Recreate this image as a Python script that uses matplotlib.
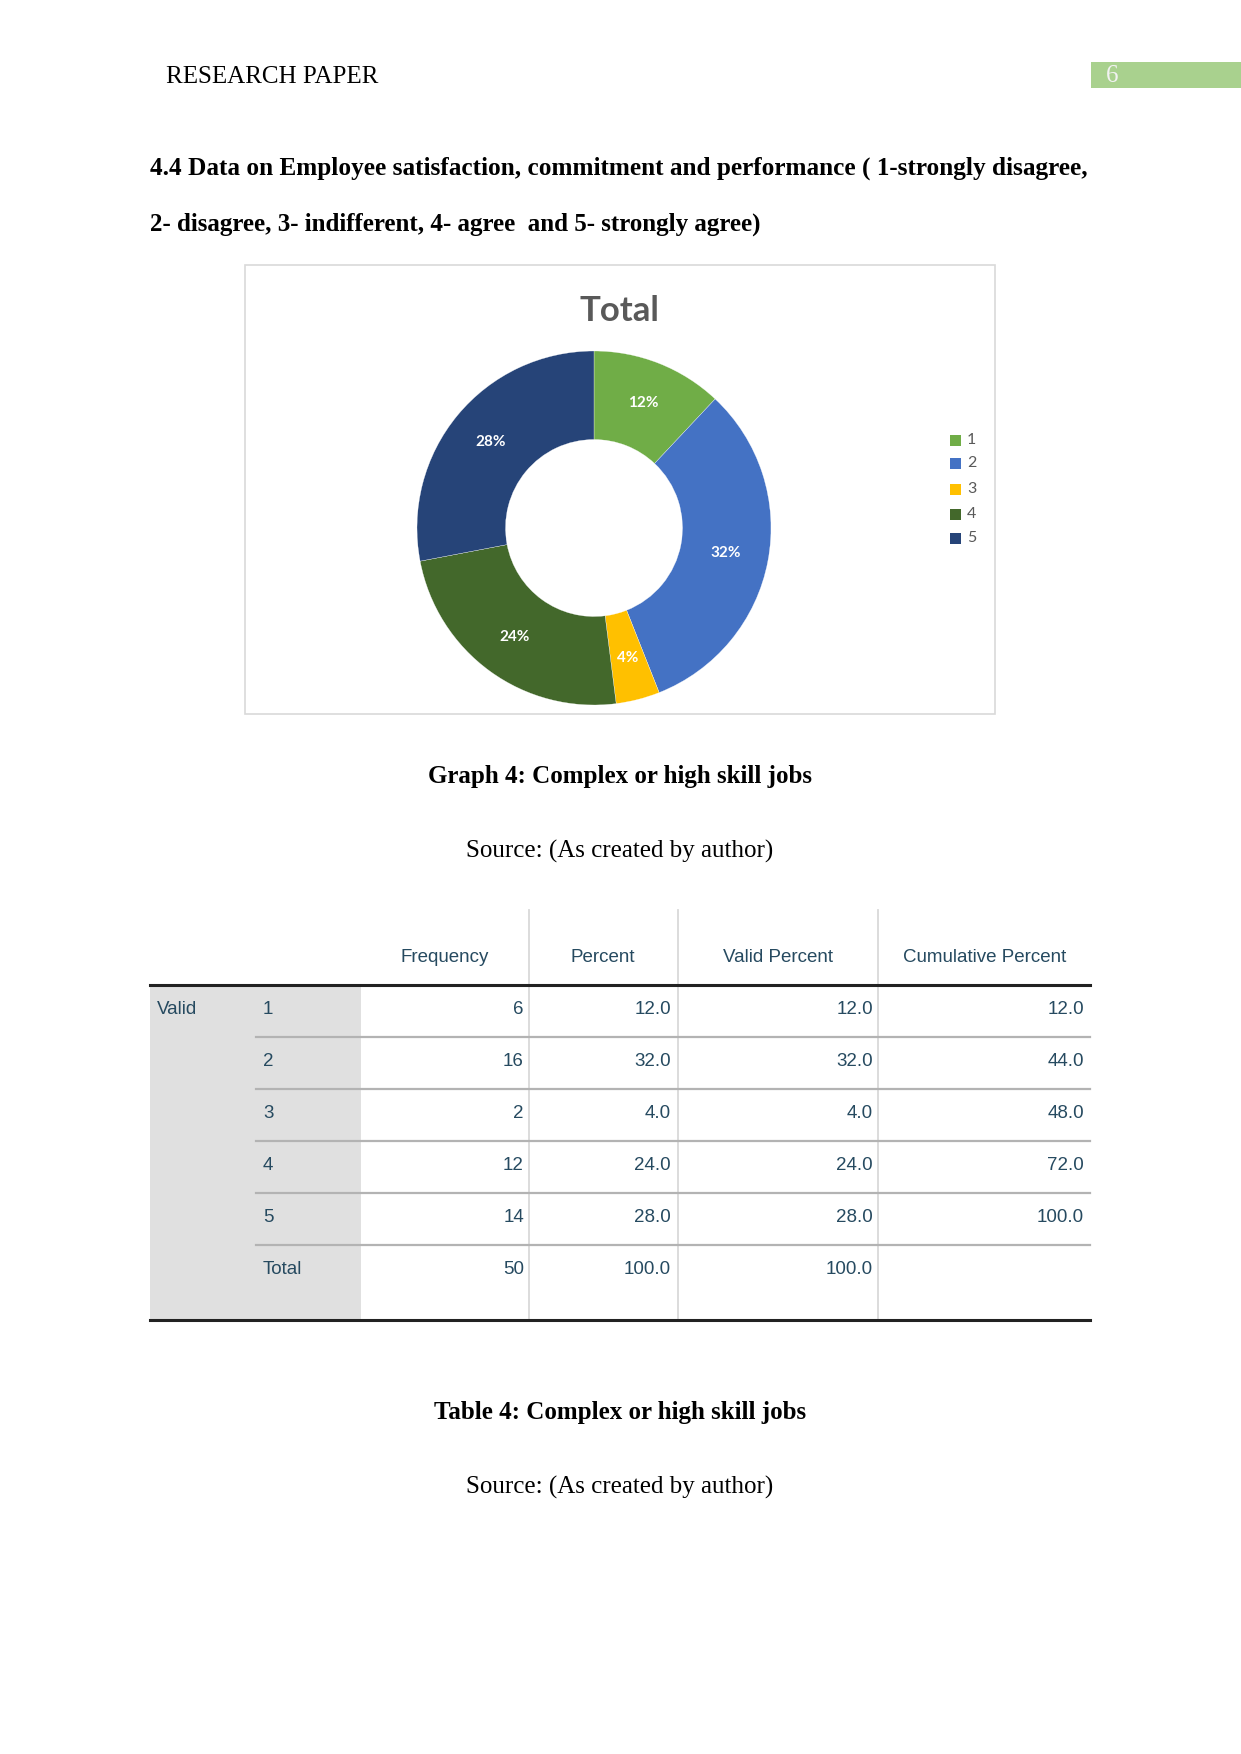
import matplotlib
matplotlib.use("Agg")
import matplotlib.pyplot as plt
from matplotlib.patches import Rectangle

# datos de la tabla / grafico
categories = ["1", "2", "3", "4", "5"]
frequency = [6, 16, 2, 12, 14]
percent = [12.0, 32.0, 4.0, 24.0, 28.0]
valid_percent = [12.0, 32.0, 4.0, 24.0, 28.0]
cumulative = [12.0, 44.0, 48.0, 72.0, 100.0]
total_freq = 50
total_pct = 100.0
col_headers = ["Frequency", "Percent", "Valid Percent", "Cumulative Percent"]
colors = ["#70ad47", "#4472c4", "#ffc000", "#43682b", "#264478"]

W, H = 1241, 1754
fig = plt.figure(figsize=(W / 100, H / 100), dpi=100)
ax = fig.add_axes([0, 0, 1, 1])
ax.set_xlim(0, W)
ax.set_ylim(H, 0)
ax.axis("off")

serif = "Liberation Serif"
sans = "Liberation Sans"
txt = "#264a60"
fs_tab = 13.5

# cabecera de pagina
ax.text(166, 77, "RESEARCH PAPER", family=serif, fontsize=18, va="center")
ax.add_patch(Rectangle((1091, 62), 150, 26, color="#a9d18e", lw=0))
ax.text(1106, 76, "6", family=serif, fontsize=18, va="center", color="#f2f2f2")

ax.text(150, 168, "4.4 Data on Employee satisfaction, commitment and performance ( 1-strongly disagree,",
        family=serif, fontsize=18.2, weight="bold", va="center")
ax.text(150, 224, "2- disagree, 3- indifferent, 4- agree  and 5- strongly agree)",
        family=serif, fontsize=18, weight="bold", va="center")

# marco del grafico
ax.add_patch(Rectangle((245, 265), 750, 449, fill=False, ec="#d9d9d9", lw=1.2))
ax.text(619, 311, "Total", family="Lato", fontsize=25, weight="bold", color="#595959",
        ha="center", va="center")

# donut
cx, cy, R = 594, 528, 177
pax = fig.add_axes([(cx - R) / W, 1 - (cy + R) / H, 2 * R / W, 2 * R / H])
wedges, _, autotexts = pax.pie(frequency, colors=colors, startangle=90, counterclock=False,
                               radius=1, autopct="%1.0f%%", pctdistance=0.76,
                               wedgeprops=dict(width=0.5, edgecolor="white", linewidth=0.2),
                               textprops=dict(color="white", family="Lato", weight="bold", fontsize=11))
pax.set_aspect("equal")
pax.set_xlim(-1, 1)
pax.set_ylim(-1, 1)

# leyenda
leg_y = [440, 463, 489, 514, 538]
for c, lab, yy in zip(colors, categories, leg_y):
    ax.add_patch(Rectangle((950, yy - 5), 11, 11, color=c, lw=0))
    ax.text(967, yy, lab, family="Lato", fontsize=11.5, color="#595959", va="center")

ax.text(620, 777, "Graph 4: Complex or high skill jobs", family=serif, fontsize=18,
        weight="bold", ha="center", va="center")
ax.text(620, 851, "Source: (As created by author)", family=serif, fontsize=18,
        ha="center", va="center")

# tabla
left, right = 150, 1090
top_hdr, hdr_line, bottom = 910, 985, 1320
ax.add_patch(Rectangle((left, hdr_line), 361 - left, bottom - hdr_line, color="#e0e0e0", lw=0))
for xv in [529, 678, 878]:
    ax.plot([xv, xv], [top_hdr, bottom], color="#d9d9d9", lw=1.3)

hdr_x = [445, 603, 778, 985]
for h, xh in zip(col_headers, hdr_x):
    ax.text(xh, 957, h, family=sans, fontsize=fs_tab, color=txt, ha="center", va="center")

row_h = 52
row_lines = [hdr_line + row_h * (i + 1) for i in range(5)]
for yl in row_lines:
    ax.plot([256, right], [yl, yl], color="#b3b3b3", lw=1.6)
ax.plot([left, right], [hdr_line, hdr_line], color="#222222", lw=2.2)
ax.plot([left, right], [bottom, bottom], color="#222222", lw=2.2)

ax.text(157, hdr_line + 25, "Valid", family=sans, fontsize=fs_tab, color=txt, va="center")
rows = list(zip(categories, frequency, percent, valid_percent, cumulative))
for i, (cat, f, p, vp, cp) in enumerate(rows):
    yy = hdr_line + 25 + row_h * i
    ax.text(263, yy, cat, family=sans, fontsize=fs_tab, color=txt, va="center")
    ax.text(524, yy, str(f), family=sans, fontsize=fs_tab, color=txt, va="center", ha="right")
    ax.text(671, yy, "%.1f" % p, family=sans, fontsize=fs_tab, color=txt, va="center", ha="right")
    ax.text(873, yy, "%.1f" % vp, family=sans, fontsize=fs_tab, color=txt, va="center", ha="right")
    ax.text(1084, yy, "%.1f" % cp, family=sans, fontsize=fs_tab, color=txt, va="center", ha="right")
yy = hdr_line + 25 + row_h * 5
ax.text(263, yy, "Total", family=sans, fontsize=fs_tab, color=txt, va="center")
ax.text(524, yy, str(total_freq), family=sans, fontsize=fs_tab, color=txt, va="center", ha="right")
ax.text(671, yy, "%.1f" % total_pct, family=sans, fontsize=fs_tab, color=txt, va="center", ha="right")
ax.text(873, yy, "%.1f" % total_pct, family=sans, fontsize=fs_tab, color=txt, va="center", ha="right")

ax.text(620, 1412, "Table 4: Complex or high skill jobs", family=serif, fontsize=18,
        weight="bold", ha="center", va="center")
ax.text(620, 1487, "Source: (As created by author)", family=serif, fontsize=18,
        ha="center", va="center")

fig.savefig("out.png", dpi=100, facecolor="white")
